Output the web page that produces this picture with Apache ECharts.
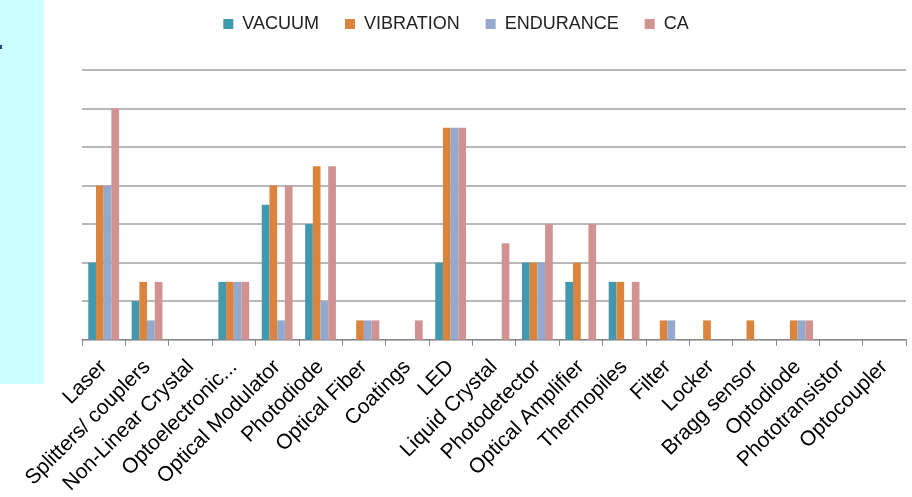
<!DOCTYPE html>
<html><head><meta charset="utf-8">
<script src="https://cdn.jsdelivr.net/npm/echarts@6/dist/echarts.min.js"></script>
<style>html,body{margin:0;padding:0;background:#fff}#c{width:912px;height:497px}</style>
</head><body><div id="c"></div>
<script>
const categories = ['Laser','Splitters/ couplers','Non-Linear Crystal','Optoelectronic...','Optical Modulator','Photodiode','Optical Fiber','Coatings','LED','Liquid Crystal','Photodetector','Optical Amplifier','Thermopiles','Filter','Locker','Bragg sensor','Optodiode','Phototransistor','Optocoupler'];
const vacuum    = [2,1,0,1.5,3.5,3,0,0,2,0,2,1.5,1.5,0,0,0,0,0,0];
const vibration = [4,1.5,0,1.5,4,4.5,0.5,0,5.5,0,2,2,1.5,0.5,0.5,0.5,0.5,0,0];
const endurance = [4,0.5,0,1.5,0.5,1,0.5,0,5.5,0,2,0,0,0.5,0,0,0.5,0,0];
const ca        = [6,1.5,0,1.5,4,4.5,0.5,0.5,5.5,2.5,3,3,1.5,0,0,0,0.5,0,0];
const seriesNames = ['VACUUM','VIBRATION','ENDURANCE','CA'];
const colors = ['#4198AF','#DB843D','#93A9CF','#D19392'];
const FONT = "'Liberation Sans',sans-serif";
const chart = echarts.init(document.getElementById('c'));
const data = [vacuum, vibration, endurance, ca];
chart.setOption({
  animation:false,
  color: colors,
  graphic:[
    {type:'rect', shape:{x:0,y:0,width:44,height:384}, style:{fill:'#CCFFFF'}, z:-1},
    {type:'rect', shape:{x:0,y:45,width:2,height:4}, style:{fill:'#1F497D'}}
  ],
  legend:{
    top:10, left:'center', itemWidth:10, itemHeight:10, itemGap:26,
    icon:'rect',
    textStyle:{fontFamily:FONT, fontSize:18, color:'#222', padding:[0,0,0,4]},
    data: seriesNames
  },
  grid:{left:82, right:6, top:70, bottom:157},
  xAxis:{
    type:'category', data:categories,
    axisLine:{lineStyle:{color:'#868686', width:1}},
    axisTick:{show:true, length:6, lineStyle:{color:'#868686'}},
    axisLabel:{rotate:45, interval:0, fontFamily:FONT, fontSize:21, color:'#000', margin:24}
  },
  yAxis:{
    type:'value', min:0, max:7, interval:1,
    axisLine:{show:false}, axisTick:{show:false}, axisLabel:{show:false},
    splitLine:{lineStyle:{color:'#A0A0A0', width:1.5}}
  },
  series: seriesNames.map((n,i)=>({
    name:n, type:'bar', data:data[i],
    barWidth:7.7, barGap:'0%', barCategoryGap:'29%'
  }))
});
</script></body></html>
